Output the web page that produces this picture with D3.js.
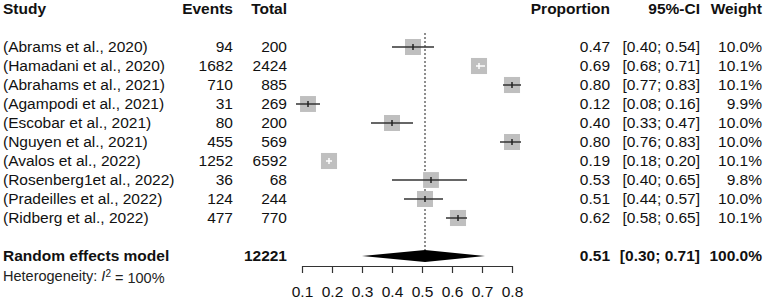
<!DOCTYPE html>
<html>
<head>
<meta charset="utf-8">
<script src="https://cdn.jsdelivr.net/npm/d3@7"></script>
<style>
  body { margin: 0; background: #fff; }
  text { font-family: "Liberation Sans", Arial, sans-serif; fill: #111; }
</style>
</head>
<body>
<div id="chart"></div>
<script>
// Study data
const studies = ['(Abrams et al., 2020)', '(Hamadani et al., 2020)', '(Abrahams et al., 2021)',
  '(Agampodi et al., 2021)', '(Escobar et al., 2021)', '(Nguyen et al., 2021)',
  '(Avalos et al., 2022)', '(Rosenberg1et al., 2022)', '(Pradeilles et al., 2022)',
  '(Ridberg et al., 2022)'];
const events = [94, 1682, 710, 31, 80, 455, 1252, 36, 124, 477];
const totals = [200, 2424, 885, 269, 200, 569, 6592, 68, 244, 770];
const proportion = [0.47, 0.69, 0.80, 0.12, 0.40, 0.80, 0.19, 0.53, 0.51, 0.62];
const ciLower = [0.40, 0.68, 0.77, 0.08, 0.33, 0.76, 0.18, 0.40, 0.44, 0.58];
const ciUpper = [0.54, 0.71, 0.83, 0.16, 0.47, 0.83, 0.20, 0.65, 0.57, 0.65];
const weights = [10.0, 10.1, 10.1, 9.9, 10.0, 10.0, 10.1, 9.8, 10.0, 10.1];

// Pooled estimate
const pooled = { label: 'Random effects model', total: 12221, est: 0.51, lo: 0.30, hi: 0.71, weight: 100.0 };
const axisTicks = [0.1, 0.2, 0.3, 0.4, 0.5, 0.6, 0.7, 0.8];

const width = 767, height = 303;
const fs = 15.5;

const svg = d3.select('#chart').append('svg')
  .attr('width', width)
  .attr('height', height);

// Scales
const x = d3.scaleLinear().domain([0.1, 0.8]).range([302, 512]);
const y = d3.scaleLinear().domain([0, 9]).range([47, 218]);
const rowStep = y(1) - y(0);
const yHeader = y(0) - 2 * rowStep;
const yPooled = y(9) + 2 * rowStep;
const axisY = 266;

const fmt2 = d3.format('.2f');
const fmtW = d3.format('.1f');

// Column headers
const headers = [
  { t: 'Study', x: 3, anchor: 'start' },
  { t: 'Events', x: 233, anchor: 'end' },
  { t: 'Total', x: 287, anchor: 'end' },
  { t: 'Proportion', x: 610, anchor: 'end' },
  { t: '95%-CI', x: 700, anchor: 'end' },
  { t: 'Weight', x: 762, anchor: 'end' }
];
svg.append('g').selectAll('text')
  .data(headers)
  .enter()
  .append('text')
  .attr('x', (d) => d.x)
  .attr('y', yHeader)
  .attr('dy', '0.35em')
  .attr('text-anchor', (d) => d.anchor)
  .style('font-size', fs + 'px')
  .style('font-weight', 'bold')
  .text((d) => d.t);

// Table columns for each study
const rows = studies.map((s, i) => ({
  study: s, events: events[i], total: totals[i], est: proportion[i],
  lo: ciLower[i], hi: ciUpper[i], w: weights[i], i
}));

const cols = [
  { x: 3, anchor: 'start', f: (d) => d.study },
  { x: 233, anchor: 'end', f: (d) => d.events },
  { x: 287, anchor: 'end', f: (d) => d.total },
  { x: 610, anchor: 'end', f: (d) => fmt2(d.est) },
  { x: 700, anchor: 'end', f: (d) => `[${fmt2(d.lo)}; ${fmt2(d.hi)}]` },
  { x: 762, anchor: 'end', f: (d) => fmtW(d.w) + '%' }
];

cols.forEach((c) => {
  svg.append('g').selectAll('text')
    .data(rows)
    .enter()
    .append('text')
    .attr('x', c.x)
    .attr('y', (d) => y(d.i))
    .attr('dy', '0.35em')
    .attr('text-anchor', c.anchor)
    .style('font-size', fs + 'px')
    .text(c.f);
});

// Reference line at pooled estimate
svg.append('line')
  .attr('x1', x(pooled.est))
  .attr('x2', x(pooled.est))
  .attr('y1', 33)
  .attr('y2', yPooled - 5)
  .attr('stroke', '#444')
  .attr('stroke-width', 1.2)
  .attr('stroke-dasharray', '2,2');

// Squares, CIs and point marks
const side = (w) => 16 * Math.sqrt(w / 10);
const marks = svg.append('g');

marks.selectAll('rect')
  .data(rows)
  .enter()
  .append('rect')
  .attr('x', (d) => x(d.est) - side(d.w) / 2)
  .attr('y', (d) => y(d.i) - side(d.w) / 2)
  .attr('width', (d) => side(d.w))
  .attr('height', (d) => side(d.w))
  .attr('fill', '#bfbfbf');

// line is white when the CI lies within the square
const inside = (d) => (x(d.hi) - x(d.lo)) < side(d.w);

marks.selectAll('line.ci')
  .data(rows)
  .enter()
  .append('line')
  .attr('class', 'ci')
  .attr('x1', (d) => x(d.lo))
  .attr('x2', (d) => x(d.hi))
  .attr('y1', (d) => y(d.i))
  .attr('y2', (d) => y(d.i))
  .attr('stroke', (d) => inside(d) ? '#fff' : '#333')
  .attr('stroke-width', 1.5);

marks.selectAll('line.pt')
  .data(rows)
  .enter()
  .append('line')
  .attr('class', 'pt')
  .attr('x1', (d) => x(d.est))
  .attr('x2', (d) => x(d.est))
  .attr('y1', (d) => y(d.i) - 3)
  .attr('y2', (d) => y(d.i) + 3)
  .attr('stroke', (d) => inside(d) ? '#fff' : '#222')
  .attr('stroke-width', 1.5);

// Pooled row text
const pooledCols = [
  { x: 3, anchor: 'start', t: pooled.label },
  { x: 287, anchor: 'end', t: pooled.total },
  { x: 610, anchor: 'end', t: fmt2(pooled.est) },
  { x: 700, anchor: 'end', t: `[${fmt2(pooled.lo)}; ${fmt2(pooled.hi)}]` },
  { x: 762, anchor: 'end', t: fmtW(pooled.weight) + '%' }
];
svg.append('g').selectAll('text')
  .data(pooledCols)
  .enter()
  .append('text')
  .attr('x', (d) => d.x)
  .attr('y', yPooled)
  .attr('dy', '0.35em')
  .attr('text-anchor', (d) => d.anchor)
  .style('font-size', fs + 'px')
  .style('font-weight', 'bold')
  .text((d) => d.t);

// Diamond
const dh = 6;
svg.append('path')
  .attr('d', `M${x(pooled.lo)},${yPooled} L${x(pooled.est)},${yPooled - dh} L${x(pooled.hi)},${yPooled} L${x(pooled.est)},${yPooled + dh} Z`)
  .attr('fill', '#000');

// Heterogeneity
const het = svg.append('text')
  .attr('x', 3)
  .attr('y', yPooled + 20)
  .attr('dy', '0.35em')
  .style('font-size', '14.5px')
  .style('fill', '#222');
het.append('tspan').text('Heterogeneity: ');
het.append('tspan').style('font-style', 'italic').text('I');
het.append('tspan').attr('dy', '-0.45em').style('font-size', '10px').text('2');
het.append('tspan').attr('dy', '0.45em').text(' = 100%');

// X axis
const axis = svg.append('g')
  .attr('transform', `translate(0,${axisY})`)
  .call(d3.axisBottom(x)
    .tickValues(axisTicks)
    .tickFormat(d3.format('.1f'))
    .tickSize(7)
    .tickSizeOuter(0)
    .tickPadding(13));

axis.select('.domain').attr('stroke', '#333').attr('stroke-width', 1.2);
axis.selectAll('.tick line').attr('stroke', '#333').attr('stroke-width', 1.2);
axis.selectAll('.tick text')
  .style('font-size', '15.5px')
  .style('font-family', '"Liberation Sans", Arial, sans-serif')
  .style('fill', '#111');
</script>
</body>
</html>
